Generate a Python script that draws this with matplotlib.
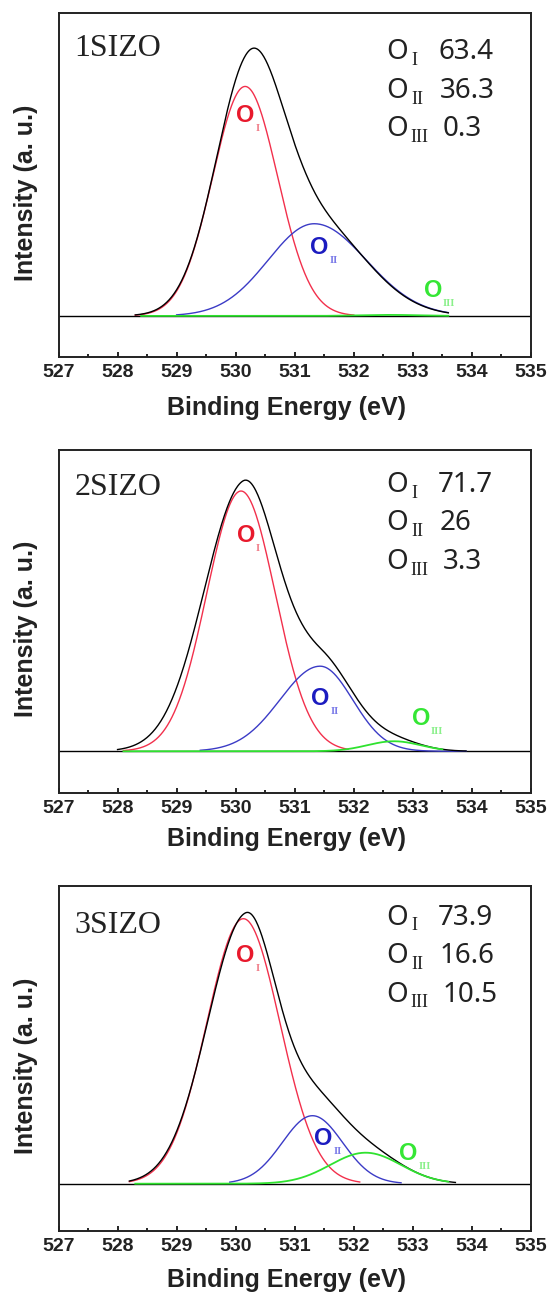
import numpy as np
import matplotlib.pyplot as plt

samples = ['1SIZO', '2SIZO', '3SIZO']
o1_pct = ['63.4', '71.7', '73.9']
o2_pct = ['36.3', '26', '16.6']
o3_pct = ['0.3', '3.3', '10.5']

# fitted components:
# centre (eV), height (a.u.), (left sigma, right sigma) in eV, drawn range (eV)
oi_center = [530.16, 530.09, 530.13]
oi_height = [229, 260, 265]
oi_sigma = [(0.55, 0.55), (0.58, 0.58), (0.62, 0.62)]
oi_range = [(528.3, 532.0), (528.1, 531.9), (528.2, 532.1)]

oii_center = [531.33, 531.43, 531.30]
oii_height = [92, 85, 68]
oii_sigma = [(0.78, 0.88), (0.68, 0.55), (0.51, 0.51)]
oii_range = [(529.0, 533.6), (529.4, 533.9), (529.9, 532.8)]

oiii_center = [532.6, 532.68, 532.2]
oiii_height = [1, 10, 31]
oiii_sigma = [(0.5, 0.5), (0.45, 0.45), (0.6, 0.6)]
oiii_range = [(528.4, 533.6), (528.1, 533.5), (528.3, 533.6)]

# measured envelope (black), main peak + shoulder terms
env_center = [[530.22, 531.3], [530.12, 531.45, 532.68], [530.17, 531.3, 532.2]]
env_height = [[231, 94], [257, 88, 10], [265, 68, 31]]
env_sigma = [[(0.58, 0.55), (0.75, 0.88)],
             [(0.67, 0.55), (0.68, 0.55), (0.45, 0.45)],
             [(0.65, 0.52), (0.51, 0.51), (0.6, 0.6)]]
env_range = [(528.3, 533.6), (528.0, 533.9), (528.2, 533.72)]

# coloured tags on the curves (eV, intensity)
tag_x = [[530.01, 531.26, 533.18], [530.02, 531.28, 532.98], [530.01, 531.33, 532.77]]
tag_y = [[194, 62, 19], [209, 46, 26], [222, 39, 24]]

numerals = ['I', 'II', 'III']
line_col = ['#f2304c', '#3b3bc6', '#2fe22f']
tag_col = ['#e8192c', '#1c1cc0', '#35e635']
sub_col = ['#f07a86', '#7a7ae8', '#8af08a']

# panel geometry in pixels (top, bottom) and y limits
W, H = 552, 1293
ax_left, ax_right = 58.5, 531.0
panel_px = [(13.3, 357.0), (450.0, 793.3), (885.7, 1230.7)]
ylims = [(-41, 302), (-42, 301), (-47, 298)]
name_base = [43, 45, 47]
stat_base = [46, 42, 39]
xlab_base = [58, 53, 56]


def peak(e, c, h, s):
    sig = np.where(e < c, s[0], s[1])
    return h * np.exp(-(e - c) ** 2 / (2 * sig ** 2))


plt.rcParams['font.family'] = ['Liberation Sans', 'DejaVu Sans']
fig = plt.figure(figsize=(W / 100, H / 100), dpi=100)

for i in range(3):
    top, bot = panel_px[i]
    hpx = bot - top
    ax = fig.add_axes([ax_left / W, 1 - bot / H, (ax_right - ax_left) / W, hpx / H])

    def fx(px):
        return (px - ax_left) / (ax_right - ax_left)

    def fy(d):
        return 1 - d / hpx

    ax.axhline(0, color='black', lw=1.0, zorder=1)

    comps = [(oi_center, oi_height, oi_sigma, oi_range),
             (oii_center, oii_height, oii_sigma, oii_range)]
    for k, (cc, hh, ss, rr) in enumerate(comps):
        e = np.linspace(rr[i][0], rr[i][1], 500)
        ax.plot(e, peak(e, cc[i], hh[i], ss[i]), color=line_col[k], lw=1.0, zorder=2)

    e = np.linspace(env_range[i][0], env_range[i][1], 500)
    env = np.zeros_like(e)
    for c, h, s in zip(env_center[i], env_height[i], env_sigma[i]):
        env += peak(e, c, h, s)
    ax.plot(e, env, color='black', lw=1.0, zorder=3)

    e = np.linspace(oiii_range[i][0], oiii_range[i][1], 500)
    ax.plot(e, peak(e, oiii_center[i], oiii_height[i], oiii_sigma[i]),
            color=line_col[2], lw=1.3, zorder=4)

    # tags on curves
    for k in range(3):
        ax.text(tag_x[i][k], tag_y[i][k], 'O', color=tag_col[k], fontsize=17,
                fontweight='bold', ha='left', va='baseline', zorder=5)
        ax.annotate(numerals[k], xy=(tag_x[i][k], tag_y[i][k]), xytext=(13.8, -6.5),
                    textcoords='offset points', fontsize=7.5, fontweight='bold',
                    color=sub_col[k], ha='left', va='baseline',
                    family=['Liberation Serif', 'DejaVu Serif'], zorder=5)

    # sample name
    ax.text(fx(74.3), fy(name_base[i]), samples[i], transform=ax.transAxes,
            family=['Liberation Serif', 'DejaVu Serif'], fontsize=23,
            ha='left', va='baseline', color='#222222')

    # percentages
    vals = [o1_pct[i], o2_pct[i], o3_pct[i]]
    sub_x = [414.5, 417, 419]
    num_x = [438, 440, 443]
    for r in range(3):
        b = stat_base[i] + 38.5 * r
        ax.text(fx(386.5), fy(b), 'O', transform=ax.transAxes, family=['Noto Sans', 'DejaVu Sans'],
                fontsize=20, ha='left', va='baseline', color='#222222')
        ax.text(fx(sub_x[r]), fy(b + 5.7), numerals[r], transform=ax.transAxes,
                family=['Liberation Serif', 'DejaVu Serif'], fontsize=13,
                ha='center', va='baseline', color='#222222')
        ax.text(fx(num_x[r]), fy(b), vals[r], transform=ax.transAxes,
                family=['Noto Sans', 'DejaVu Sans'], fontsize=20,
                ha='left', va='baseline', color='#222222')

    ax.set_xlim(527, 535)
    ax.set_ylim(*ylims[i])
    ax.set_xticks(np.arange(527, 536, 1))
    ax.set_xticks(np.arange(527.5, 535, 1), minor=True)
    ax.set_yticks([])
    ax.tick_params(axis='x', which='both', direction='in', top=False, width=1.2)
    ax.tick_params(axis='x', which='major', length=3.5, pad=5, labelsize=14)
    ax.tick_params(axis='x', which='minor', length=2.5)
    for lab in ax.get_xticklabels():
        lab.set_fontweight('bold')
        lab.set_color('#222222')
    for sp in ax.spines.values():
        sp.set_linewidth(1.4)
        sp.set_color('#222222')

    ax.text(fx(167), fy(hpx + xlab_base[i]), 'Binding Energy (eV)', transform=ax.transAxes,
            fontsize=18, fontweight='bold', ha='left', va='baseline', color='#222222')
    ax.text(fx(33), 0.479, 'Intensity (a. u.)', transform=ax.transAxes, rotation=90,
            rotation_mode='anchor', fontsize=18, fontweight='bold', ha='center',
            va='baseline', color='#222222')

fig.savefig('out.png', dpi=100)
